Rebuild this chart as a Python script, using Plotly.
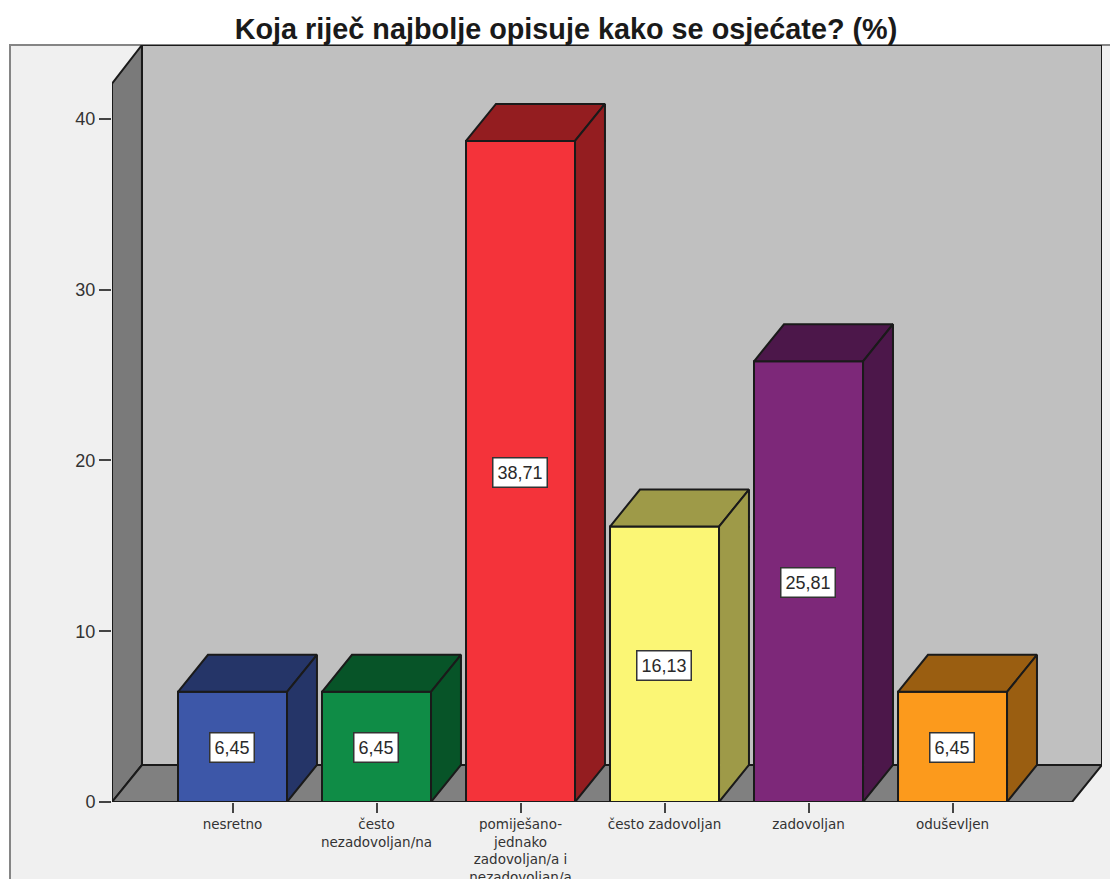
import plotly.graph_objects as go

categories = ["nesretno", "često<br>nezadovoljan/na",
              "pomiješano-<br>jednako<br>zadovoljan/a i<br>nezadovoljan/a",
              "često zadovoljan", "zadovoljan", "oduševljen"]
values = [6.45, 6.45, 38.71, 16.13, 25.81, 6.45]
y_ticks = [0, 10, 20, 30, 40]
front_colors = ["#3d57a8", "#0f8c46", "#f4333a", "#fbf675", "#7d2879", "#fc9a1c"]
shade_colors = ["#253568", "#075428", "#941d20", "#9e9a48", "#4c174a", "#9a5e11"]

W, H = 1110, 879
L, R, T, B = 112, 8, 45, 77
X_MIN, X_MAX = -0.8368, 6.038
Y_MAX = 44.33
BAR_W = 0.757
DX, DY = 0.208, 2.167  # depth of the fake 3D
EDGE = "#1a1a1a"


def poly(points, fill, line=EDGE, width=2):
    path = "M " + " L ".join(f"{x},{y}" for x, y in points) + " Z"
    return dict(type="path", path=path, xref="x", yref="y", fillcolor=fill,
                line=dict(color=line, width=width), layer="below")


fig = go.Figure()

idx = list(range(len(values)))
fig.add_trace(go.Bar(x=idx, y=values, width=BAR_W,
                     marker=dict(color=front_colors, line=dict(color=EDGE, width=2))))

# top and side faces come from the same values
for i, v in enumerate(values):
    x0, x1 = i - BAR_W / 2, i + BAR_W / 2
    fig.add_trace(go.Scatter(
        x=[x0, x0 + DX, x1 + DX, x1, x0], y=[v, v + DY, v + DY, v, v],
        mode="lines", fill="toself", fillcolor=shade_colors[i],
        line=dict(color=EDGE, width=2)))
    fig.add_trace(go.Scatter(
        x=[x1, x1 + DX, x1 + DX, x1, x1], y=[0, DY, v + DY, v, 0],
        mode="lines", fill="toself", fillcolor=shade_colors[i],
        line=dict(color=EDGE, width=2)))

shapes = [
    # light panel behind everything, runs off the right and bottom edges
    dict(type="rect", xref="paper", yref="paper",
         x0=(10 - L) / (W - L - R), x1=(W + 10 - L) / (W - L - R),
         y0=(-B - 10) / (H - T - B), y1=1,
         fillcolor="#f0f0f0", line=dict(color="#858585", width=2), layer="below"),
    poly([(X_MIN + DX, DY), (X_MIN + DX, Y_MAX), (X_MAX, Y_MAX), (X_MAX, DY)], "#c0c0c0"),
    poly([(X_MIN, 0), (X_MIN, Y_MAX - DY - 0.1), (X_MIN + DX, Y_MAX), (X_MIN + DX, DY)], "#7a7a7a"),
    poly([(X_MIN, 0), (X_MIN + DX, DY), (X_MAX, DY), (X_MAX - DX, 0)], "#808080"),
]

annotations = [
    dict(x=i, y=v / 2, text=f"{v:.2f}".replace(".", ","), showarrow=False,
         xshift=-1, yshift=-1,
         font=dict(family="Liberation Sans", size=18, color="#2a2a2a"),
         bgcolor="white", bordercolor="#333333", borderwidth=1.5, borderpad=4)
    for i, v in enumerate(values)
]

fig.update_layout(
    width=W, height=H, showlegend=False, barmode="overlay",
    paper_bgcolor="white", plot_bgcolor="rgba(0,0,0,0)",
    margin=dict(l=L, r=R, t=T, b=B, autoexpand=False),
    title=dict(text="<b>Koja riječ najbolje opisuje kako se osjećate? (%)</b>",
               x=566 / W, xanchor="center", y=1 - 29 / H, yanchor="middle",
               font=dict(family="Liberation Sans", size=28.8, color="#1a1a1a")),
    shapes=shapes, annotations=annotations,
    xaxis=dict(range=[X_MIN, X_MAX], tickmode="array", tickvals=idx, ticktext=categories,
               ticks="outside", ticklen=10, tickwidth=2, tickcolor="#444444", showgrid=False,
               zeroline=False, showline=False, tickangle=0,
               tickfont=dict(family="DejaVu Sans", size=13.5, color="#333333")),
    yaxis=dict(range=[0, Y_MAX], tickmode="array", tickvals=y_ticks,
               ticks="outside", ticklen=12, tickwidth=2, tickcolor="#444444", showgrid=False,
               zeroline=False, showline=False,
               tickfont=dict(family="Liberation Sans", size=18, color="#333333")),
)

fig.write_html("out.html", config=dict(displayModeBar=False),
               post_script="document.body.style.margin='0';document.body.style.overflow='hidden';")
